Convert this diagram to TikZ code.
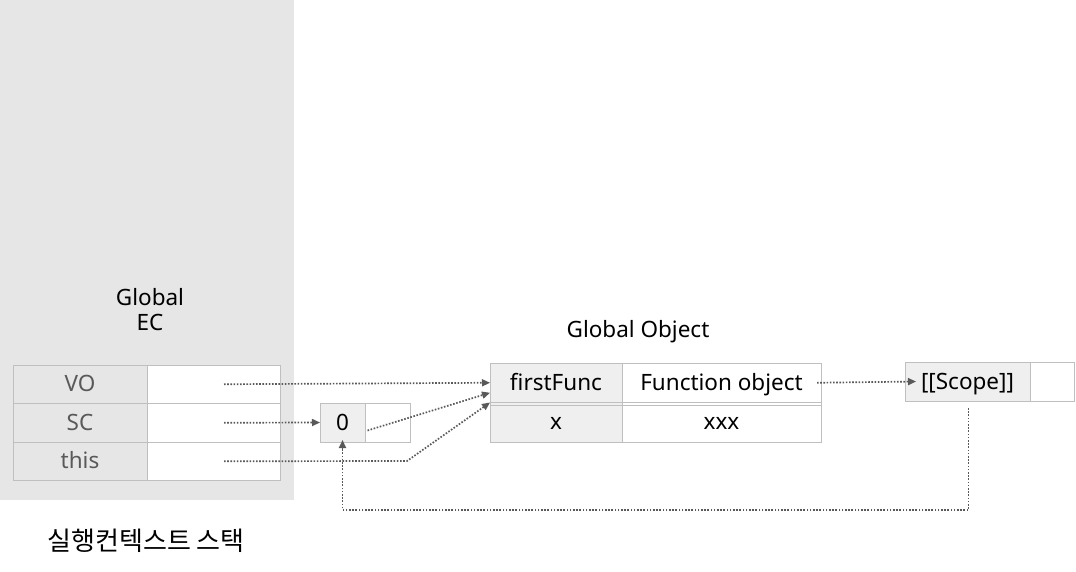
\documentclass[tikz,border=0pt]{standalone}
\usepackage{fontspec}
\setmainfont{Noto Sans}
\newfontfamily\kofont{Noto Sans CJK KR}
\usetikzlibrary{arrows.meta,calc}
\definecolor{panel}{HTML}{E6E6E6}
\definecolor{keyfill}{HTML}{EFEFEF}
\definecolor{gridline}{HTML}{BFBFBF}
\definecolor{linkcol}{HTML}{595959}
\definecolor{keytext}{HTML}{595959}
\begin{document}
\begin{tikzpicture}[x=1pt,y=-1pt,
  every node/.style={font=\fontsize{22.5}{26}\selectfont},
  cell/.style={draw=gridline, line width=1pt, inner sep=0pt, outer sep=0pt,
    anchor=north west, minimum height=#1, text height=19pt, text depth=4pt},
  cell/.default=39pt,
  key/.style={fill=keyfill},
  val/.style={fill=white},
  link/.style={draw=linkcol, line width=1.7pt, dash pattern=on 1.6pt off 1.6pt,
    -{Triangle[length=8pt,width=7pt]}},
  title/.style={align=center, inner sep=0pt}
]
\useasboundingbox (0,0) rectangle (1076,571);

% execution context stack panel
\fill[panel] (0,0) rectangle (294,500);
\node[title] (ectitle) at (150,310) {Global\\[-1pt]EC};

% Global EC table
\node[cell=38.5pt, fill=panel, minimum width=134pt, text=keytext] (vok) at (13,365) {VO};
\node[cell=38.5pt, val, minimum width=133pt] (vov) at (147,365) {};
\node[cell=38.5pt, fill=panel, minimum width=134pt, text=keytext] (sck) at (13,403.5) {SC};
\node[cell=38.5pt, val, minimum width=133pt] (scv) at (147,403.5) {};
\node[cell=38.5pt, fill=panel, minimum width=134pt, text=keytext] (thk) at (13,442) {this};
\node[cell=38.5pt, val, minimum width=133pt] (thv) at (147,442) {};

% scope chain list
\node[cell, key, minimum width=45pt] (zero) at (320,403) {0};
\node[cell, val, minimum width=45pt] (zerov) at (365,403) {};

% Global Object table
\node[title] (gotitle) at (638,332) {Global Object};
\node[cell=39.5pt, key, minimum width=132pt] (gofirst) at (490,363) {firstFunc};
\node[cell=39.5pt, val, minimum width=199pt] (gofunc) at (622,363) {Function object};
\node[cell=39.5pt, key, minimum width=132pt] (gox) at (490,402.5) {x};
\node[cell=39.5pt, val, minimum width=199pt] (goxv) at (622,402.5) {xxx};
\draw[gridline, line width=1pt] ([yshift=-3pt]gox.north west) -- ([yshift=-3pt]goxv.north east);

% function object internals
\node[cell, key, minimum width=125pt] (scopek) at (905,362) {[[Scope]]};
\node[cell, val, minimum width=44pt] (scopev) at (1030,362) {};

% stack caption
\node[inner sep=0pt, font=\kofont\fontsize{26}{30}\selectfont] (caption) at (146,541) {실행컨텍스트 스택};

% links
\coordinate (vostart) at ($(vov.west)+(77,0)$);
\coordinate (scstart) at ($(scv.west)+(77,0)$);
\coordinate (thstart) at ($(thv.west)+(77,0)$);
\coordinate (thbend) at (407,461);
\coordinate (zvstart) at ($(zerov.center)+(-20,8)$);
\draw[link] (vostart) -- (gofirst.west);
\draw[link] (scstart) -- (zero.west);
\draw[link] (zvstart) -- ($(gofirst.west)+(0,10)$);
\draw[link] (thstart) -- (thbend) -- (gofirst.south west);
\draw[link] ($(gofunc.east)+(-4,0)$) -- ($(scopek.west)+(11,0)$);
\coordinate (loopcorner) at ($(zero.south)+(0,68)$);
\draw[link] ($(scopek.south)+(1,7)$) |- (loopcorner) -- ([yshift=2pt]zero.south);
\end{tikzpicture}
\end{document}
